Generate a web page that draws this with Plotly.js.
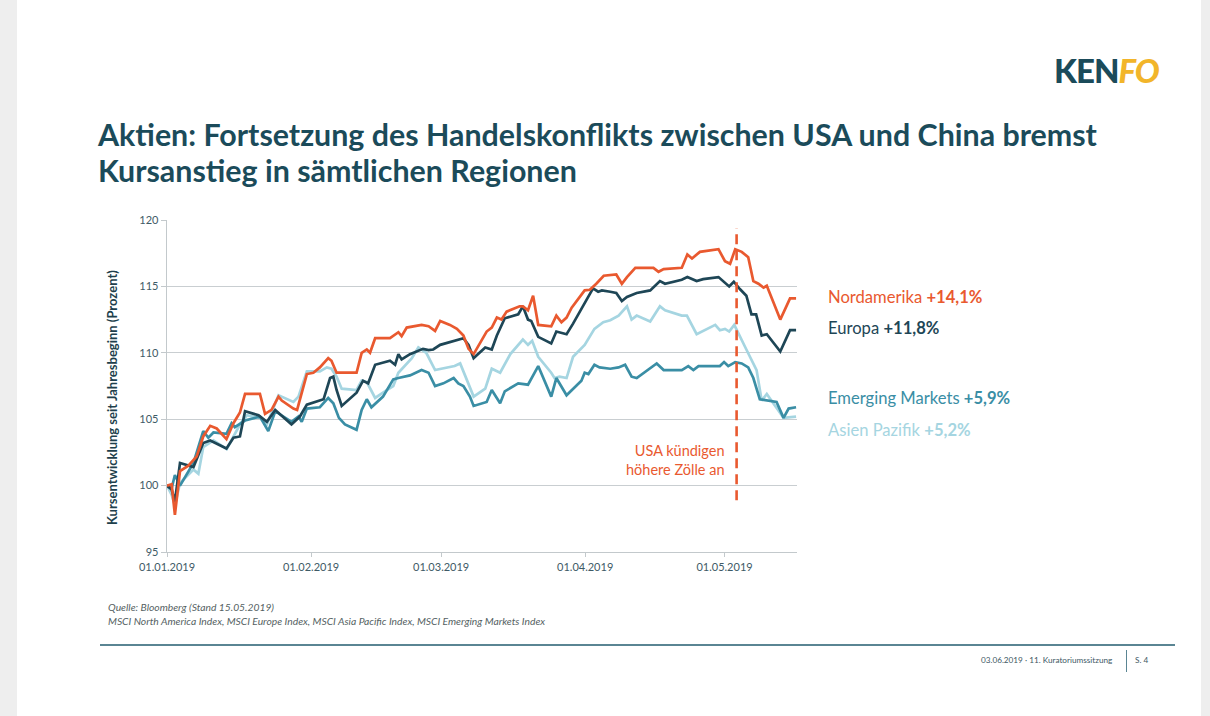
<!DOCTYPE html>
<html>
<head>
<meta charset="utf-8">
<script src="https://cdn.plot.ly/plotly-3.0.1.min.js"></script>
<style>
  html, body { margin:0; padding:0; }
  body { width:1210px; height:716px; position:relative; overflow:hidden; background:#eeeeee; font-family: Lato, "Open Sans", sans-serif; }
  #slide { position:absolute; left:17px; top:0; width:1184px; height:716px; background:#ffffff; }
  #chart { position:absolute; left:0; top:0; width:1210px; height:716px; }
  .txt { position:absolute; white-space:nowrap; }
  #logo { left:1054px; top:50px; font-size:33px; font-weight:900; letter-spacing:-1px; }
  #title { left:98px; top:116px; font-size:30.4px; font-weight:700; color:#1b4b5a; line-height:36px; }
  #src { left:108px; top:600px; font-size:10.3px; font-style:italic; color:#555f63; line-height:14px; }
  #rule { position:absolute; left:100px; top:644px; width:1075px; height:2px; background:#5a8593; }
  #foot { left:981px; top:655px; font-size:8.2px; color:#3d5864; }
  #sep { position:absolute; left:1126px; top:650px; width:1px; height:22px; background:#5a8593; }
  #page { left:1135px; top:655px; font-size:8.2px; color:#3d5864; }
</style>
</head>
<body>
<div id="slide"></div>
<div id="chart"></div>
<div class="txt" id="logo"><span style="color:#1b4b5a">KEN</span><span style="color:#f2b52a;font-style:italic">FO</span></div>
<div class="txt" id="title">Aktien: Fortsetzung des Handelskonflikts zwischen USA und China bremst<br>Kursanstieg in sämtlichen Regionen</div>
<div class="txt" id="src">Quelle: Bloomberg (Stand 15.05.2019)<br>MSCI North America Index, MSCI Europe Index, MSCI Asia Pacific Index, MSCI Emerging Markets Index</div>
<div id="rule"></div>
<div class="txt" id="foot">03.06.2019 · 11. Kuratoriumssitzung</div>
<div id="sep"></div>
<div class="txt" id="page">S. 4</div>
<script>
// x values: days since 01.01.2019
const tickDays = [0, 31, 59, 90, 120];
const tickLabels = ["01.01.2019", "01.02.2019", "01.03.2019", "01.04.2019", "01.05.2019"];
const yTitle = "Kursentwicklung seit Jahresbeginn (Prozent)";

const naDays = [0,1.0,1.7,2.8,4.6,6.4,7.8,9.3,10.7,12.8,14.3,15.7,16.8,20.0,21.1,22.5,24.0,24.7,27.2,28.0,30.1,31.5,32.9,34.7,35.4,36.5,40.8,41.9,43.0,43.7,44.8,48.0,49.8,50.5,51.6,54.8,56.3,57.7,58.8,60.9,62.4,63.8,64.9,66.0,68.8,69.9,71.0,72.0,73.1,75.9,76.6,77.7,78.8,79.9,82.7,83.8,84.9,86.0,87.1,89.9,91.0,92.4,94.0,96.7,97.9,99.0,100.8,104.7,105.8,106.9,110.8,112.0,113.0,114.7,118.7,120.1,121.2,122.3,123.7,125.1,126.2,127.3,128.4,129.1,132.0,134.1,135.4];
const naVals = [100,100.1,97.8,101.1,101.5,102.2,103.7,104.5,104.3,103.5,104.7,105.5,106.9,106.9,105.4,105.7,106.7,106.4,105.8,105.7,108.4,108.5,108.9,109.6,109.4,108.5,108.5,110.0,110.25,110.0,111.1,111.1,111.55,111.25,111.9,112.1,112.0,111.65,112.4,112.1,111.8,111.3,110.3,109.9,111.6,111.9,112.65,112.5,113.1,113.5,113.5,113.2,114.3,112.1,112.0,112.8,112.3,112.65,113.4,114.7,114.75,115.2,115.8,115.9,115.2,115.7,116.4,116.4,116.1,116.3,116.4,117.4,117.1,117.6,117.8,116.9,116.7,117.8,117.6,117.2,115.4,115.2,114.9,115.05,112.5,114.1,114.1];

const euDays = [0,1.0,1.7,2.8,5.7,6.4,7.8,9.3,12.8,14.3,15.7,16.8,19.7,21.5,23.3,26.8,28.6,30.1,32.9,33.7,35.1,35.8,36.5,37.6,40.8,42.2,43.3,44.8,48.0,49.1,49.8,50.5,52.3,55.1,56.3,57.3,58.8,62.4,63.8,64.9,66.0,68.5,69.9,71.0,72.7,75.6,76.6,77.7,78.4,79.9,82.7,83.8,86.0,87.4,91.7,92.8,93.6,95.4,96.7,97.9,99.0,101.1,104.0,106.1,107.2,110.8,112.0,114.0,115.4,118.7,121.0,122.0,123.3,124.7,125.8,126.8,128.0,129.1,132.0,134.1,135.4];
const euVals = [100,99.7,98.8,101.7,101.4,102.0,103.2,103.4,102.8,103.6,103.7,105.6,105.3,104.8,105.7,104.6,105.2,106.1,106.4,106.5,108.1,108.2,107.2,106.0,107.0,107.9,107.7,109.1,109.4,109.1,109.9,109.5,109.9,110.3,110.2,110.25,110.6,111.0,111.1,110.6,109.6,110.4,110.25,111.3,112.6,112.9,113.5,112.5,112.4,111.2,110.7,111.6,111.4,112.2,114.85,114.6,114.7,114.6,114.5,113.9,114.2,114.5,114.7,115.4,115.2,115.5,115.7,115.4,115.55,115.7,115.0,115.35,114.8,114.3,112.9,112.9,111.3,111.4,110.1,111.7,111.7];

const emDays = [0,1.0,1.7,2.8,5.7,7.8,8.9,10.0,12.8,13.9,14.6,16.8,20.0,21.8,23.3,26.8,28.3,29.0,30.1,32.9,34.7,35.8,37.0,38.3,40.8,41.9,43.0,44.0,46.5,48.7,49.8,52.3,54.8,56.3,57.7,59.5,61.7,62.7,63.8,65.2,66.0,68.8,69.9,71.7,72.7,75.6,77.7,79.9,82.7,83.8,86.0,89.2,89.9,90.7,92.0,93.1,95.4,97.2,98.6,100.0,101.1,105.4,106.9,110.8,112.2,113.3,114.4,119.0,119.9,120.8,122.3,123.7,125.1,126.2,127.6,129.1,131.2,132.7,133.8,135.4];
const emVals = [100,99.8,100.8,100.0,101.7,104.1,103.6,104.0,103.9,104.7,104.4,104.9,105.2,104.1,105.6,104.8,105.2,104.8,105.8,105.9,106.6,106.2,105.1,104.6,104.2,105.7,106.5,105.9,106.7,108.0,108.1,108.3,108.7,108.5,107.5,107.7,108.1,107.7,107.5,106.7,106.0,106.3,107.2,106.2,107.1,107.7,107.6,109.0,106.7,108.1,106.8,107.9,108.5,108.4,109.1,108.9,108.8,108.9,109.1,108.2,108.1,109.2,108.7,108.7,109.0,108.7,109.0,109.0,109.3,109.0,109.3,109.2,108.9,108.1,106.5,106.4,106.3,105.1,105.8,105.9];

const apDays = [0,1.0,1.7,2.8,5.7,6.75,7.8,10.0,12.85,15.7,17.2,20.0,21.5,24.0,27.2,28.3,30.1,32.9,34.4,35.4,36.5,37.6,40.8,41.9,43.0,44.8,46.9,48.7,49.8,51.2,52.7,54.1,55.8,57.7,61.9,63.1,66.0,68.5,69.9,71.7,73.9,76.6,77.7,78.6,79.9,82.7,83.4,84.5,86.0,87.4,89.9,92.0,93.9,95.4,97.2,99.0,100.0,101.1,104.0,106.1,107.2,110.8,111.9,114.0,118.0,119.0,120.1,121.0,122.1,124.7,126.9,128.0,129.1,132.7,135.4];
const apVals = [100,99.3,98.5,100.2,101.2,100.9,102.9,103.4,102.75,104.6,105.3,105.1,104.6,106.8,106.3,106.7,108.6,108.6,108.9,108.8,108.2,107.3,107.2,107.9,107.8,106.6,107.1,107.5,108.5,109.0,109.6,110.4,110.0,108.7,109.0,109.2,106.7,107.3,108.8,108.5,109.9,111.0,110.6,110.9,109.7,108.5,108.1,108.2,108.1,109.7,110.6,111.8,112.3,112.45,112.8,113.5,112.5,112.8,112.35,113.5,113.2,112.8,112.8,111.4,112.1,111.7,111.8,111.6,112.1,110.25,108.7,106.4,106.9,105.1,105.2];

const seriesNames = ["Nordamerika", "Europa", "Emerging Markets", "Asien Pazifik"];
const seriesChange = ["+14,1%", "+11,8%", "+5,9%", "+5,2%"];
const seriesColors = ["#e9592f", "#1e4656", "#3a8ea5", "#a5d5e1"];

const eventDay = 122.6;
const eventLabel = "USA kündigen<br>höhere Zölle an";

const W = 1210, H = 716;
const L = 167, R = 797, T = 220, B = 552;
const px = x => (x - L) / (R - L);
const py = y => (B - y) / (B - T);

const tr = (x, y, i) => ({
  type: 'scatter', mode: 'lines', x: x, y: y, name: seriesNames[i],
  line: {color: seriesColors[i], width: 2.7}, hoverinfo: 'skip'
});

// drawing order: light blue, teal, navy, orange on top
const data = [
  tr(apDays, apVals, 3),
  tr(emDays, emVals, 2),
  tr(euDays, euVals, 1),
  tr(naDays, naVals, 0)
];

const labelY = [297, 328, 398, 430];
const annotations = seriesNames.map((n, i) => ({
  xref: 'paper', yref: 'paper', x: px(826), y: py(labelY[i]),
  xanchor: 'left', yanchor: 'middle', showarrow: false,
  text: n + ' <b>' + seriesChange[i] + '</b>',
  font: {family: 'Lato, sans-serif', size: 16.6, color: seriesColors[i]}
}));
annotations.push({
  xref: 'paper', yref: 'paper', x: px(727), y: py(460),
  xanchor: 'right', yanchor: 'middle', align: 'right', showarrow: false,
  text: eventLabel,
  font: {family: 'Lato, sans-serif', size: 14.5, color: '#e9592f'}
});
annotations.push({
  xref: 'paper', yref: 'paper', x: px(112), y: py(398),
  xanchor: 'center', yanchor: 'middle', showarrow: false, textangle: -90,
  text: '<b>' + yTitle + '</b>',
  font: {family: 'Lato, sans-serif', size: 13, color: '#1e3f4c'}
});

const layout = {
  width: W, height: H,
  margin: {l: L, r: W - R, t: T, b: H - B, pad: 0},
  paper_bgcolor: 'rgba(0,0,0,0)', plot_bgcolor: 'rgba(0,0,0,0)',
  showlegend: false,
  font: {family: 'Lato, sans-serif', color: '#3e5a66', size: 11},
  xaxis: {
    range: [0, 135.6], tickvals: tickDays, ticktext: tickLabels,
    showgrid: false, zeroline: false, showline: true, linecolor: '#c3c9cc', linewidth: 1.3,
    ticks: 'outside', ticklen: 4, tickcolor: '#c3c9cc',
    tickfont: {size: 11, color: '#3e5a66'}, fixedrange: true
  },
  yaxis: {
    range: [95, 120], dtick: 5, tick0: 95,
    showgrid: true, gridcolor: '#c9ced1', gridwidth: 1.3,
    zeroline: false, showline: true, linecolor: '#c3c9cc', linewidth: 1.3,
    ticks: 'outside', ticklen: 5, tickcolor: '#c3c9cc',
    tickfont: {size: 11, color: '#3e5a66'}, fixedrange: true
  },
  shapes: [{
    type: 'line', xref: 'x', yref: 'y', x0: eventDay, x1: eventDay, y0: 98.9, y1: 119.4,
    line: {color: '#e9592f', width: 2.6, dash: '10px,6px'}
  }],
  annotations: annotations
};

Plotly.newPlot('chart', data, layout, {displayModeBar: false, staticPlot: true});
</script>
</body>
</html>
